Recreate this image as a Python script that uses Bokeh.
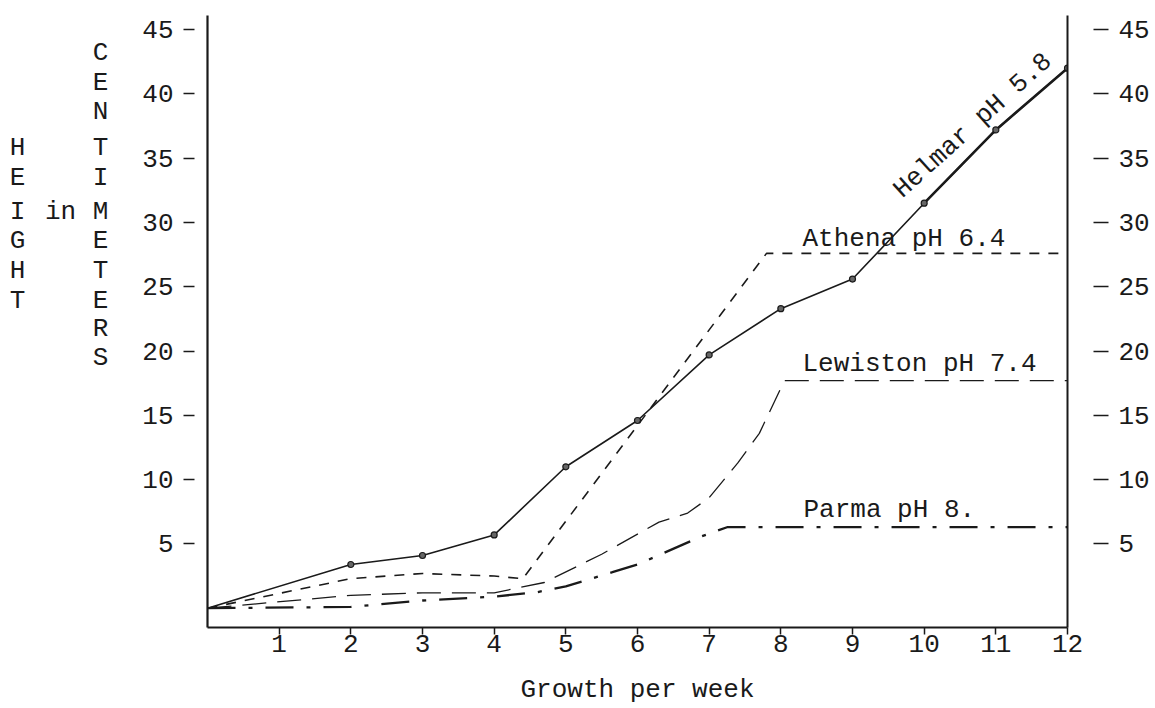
from bokeh.plotting import figure
from bokeh.layouts import row
from bokeh.models import LinearAxis, Label, FixedTicker, Range1d
from bokeh.core.properties import value
from bokeh.embed import file_html
from bokeh.resources import INLINE

# ---- data ----
helmar_weeks = [0, 2, 3, 4, 5, 6, 7, 8, 9, 10, 11, 12]
helmar_height = [0, 3.4, 4.1, 5.7, 11.0, 14.6, 19.7, 23.3, 25.6, 31.5, 37.2, 42.0]

athena_weeks = [0, 2, 3, 4, 4.4, 7.8, 12]
athena_height = [0, 2.3, 2.7, 2.5, 2.3, 27.6, 27.6]

lewiston_weeks = [0, 2, 3, 4, 4.7, 5.5, 6.3, 6.7, 7.0, 7.4, 7.7, 8.05, 12]
lewiston_height = [0, 1.0, 1.2, 1.2, 2.0, 4.2, 6.7, 7.4, 8.6, 11.3, 13.6, 17.7, 17.7]

parma_weeks = [0, 2, 3, 4, 4.6, 5.0, 5.65, 6.0, 6.9, 7.25, 12]
parma_height = [0, 0.1, 0.6, 0.9, 1.25, 1.7, 2.8, 3.4, 5.6, 6.3, 6.3]

x_ticks = [1, 2, 3, 4, 5, 6, 7, 8, 9, 10, 11, 12]
y_ticks = [5, 10, 15, 20, 25, 30, 35, 40, 45]

series_labels = ["Helmar pH 5.8", "Athena pH 6.4", "Lewiston pH 7.4", "Parma pH 8."]
x_title = "Growth per week"
y_title_left = "HEIGHT"
y_title_mid = "in"
y_title_right = "CENTIMETERS"

# ---- styling ----
FONT = "Liberation Mono"
FS = "26px"
INK = "#1a1a1a"

TOTAL_W, H = 1155, 708
LW = 130                      # width of the side panel holding the vertical title
W = TOTAL_W - LW
BL, BR, BT, BB = 207 - LW, 88, 15, 81
X_RANGE = (0, 12)
Y_RANGE = (-1.5, 46.1)

p = figure(width=W, height=H, x_range=Range1d(*X_RANGE), y_range=Range1d(*Y_RANGE),
           output_backend="svg", toolbar_location=None,
           min_border_left=BL, min_border_right=BR, min_border_top=BT, min_border_bottom=BB)
p.outline_line_color = None
p.xgrid.visible = False
p.ygrid.visible = False
p.background_fill_color = "white"
p.border_fill_color = "white"

FW = W - BL - BR
FH = H - BT - BB
def dx(px):
    return X_RANGE[0] + (px - LW - BL) * (X_RANGE[1] - X_RANGE[0]) / FW
def dy(py):
    return Y_RANGE[0] + (BT + FH - py) * (Y_RANGE[1] - Y_RANGE[0]) / FH

# axes
xa = p.xaxis[0]
xa.ticker = FixedTicker(ticks=x_ticks)
xa.major_tick_in = 0
xa.major_tick_out = 7
xa.minor_tick_line_color = None
xa.major_label_standoff = 0
xa.axis_line_width = 2
xa.axis_line_color = INK
xa.major_tick_line_color = INK
xa.major_tick_line_width = 1.5
xa.axis_label = x_title
xa.axis_label_standoff = 20
xa.axis_label_text_font = FONT
xa.axis_label_text_font_size = FS
xa.axis_label_text_font_style = "normal"
xa.axis_label_text_color = INK

ya = p.yaxis[0]
ya.ticker = FixedTicker(ticks=y_ticks)
ya.major_tick_in = -13
ya.major_tick_out = 24
ya.minor_tick_line_color = None
ya.major_label_standoff = 10
ya.axis_line_width = 2.2
ya.axis_line_color = INK
ya.major_tick_line_color = INK
ya.major_tick_line_width = 1.5

ra = LinearAxis(ticker=FixedTicker(ticks=y_ticks))
ra.major_tick_in = -26
ra.major_tick_out = 41
ra.minor_tick_line_color = None
ra.major_label_standoff = 10
ra.axis_line_width = 2
ra.axis_line_color = INK
ra.major_tick_line_color = INK
ra.major_tick_line_width = 1.5
p.add_layout(ra, "right")

for ax in (xa, ya, ra):
    ax.major_label_text_font = FONT
    ax.major_label_text_font_size = FS
    ax.major_label_text_color = INK

# lines
p.line(helmar_weeks, helmar_height, line_color=INK, line_width=1.6)
p.line(helmar_weeks[9:], helmar_height[9:], line_color=INK, line_width=2.6)
p.scatter(helmar_weeks[1:], helmar_height[1:], marker="circle", size=6,
          fill_color="#666666", line_color=INK, line_width=1.2)
p.line(athena_weeks, athena_height, line_color=INK, line_width=1.6, line_dash="10 9")
p.line(lewiston_weeks, lewiston_height, line_color=INK, line_width=1.3, line_dash="24 11")
p.line(parma_weeks, parma_height, line_color=INK, line_width=2.3, line_dash="28 13 4 13")

def add_text(text, x, y, align="left", baseline="alphabetic", angle=0.0):
    p.add_layout(Label(x=x, y=y, text=text, text_font=FONT, text_font_size=FS,
                       text_color=INK, text_align=align, text_baseline=baseline,
                       angle=angle))

# series labels
add_text(series_labels[0], dx(897), dy(193), angle=0.733)
add_text(series_labels[1], dx(802), dy(238))
add_text(series_labels[2], dx(802), dy(363))
add_text(series_labels[3], dx(803), dy(509))

# ---- side panel with the stacked vertical title ----
# (its frame is aligned with the main frame: page y 15 .. 627)
pl = figure(width=LW, height=H, x_range=Range1d(0, LW), y_range=Range1d(BT + FH, BT),
            output_backend="svg", toolbar_location=None,
            x_axis_location=None, y_axis_location=None, min_border=0)
pl.outline_line_color = None
pl.xgrid.visible = False
pl.ygrid.visible = False

rows = [52, 82, 111, 147, 177, 211, 240, 270, 300, 328, 357]
tx, ty, tt = [], [], []
for i, ch in enumerate(y_title_right):
    tx.append(100); ty.append(rows[i]); tt.append(ch)
for i, ch in enumerate(y_title_left):
    tx.append(17); ty.append(rows[3 + i]); tt.append(ch)
tx.append(60); ty.append(rows[5]); tt.append(y_title_mid)
pl.text(x=tx, y=ty, text=tt, text_font=value(FONT), text_font_size=value(FS),
        text_color=INK, text_align="center", text_baseline="middle")

layout = row(pl, p, spacing=0)
open("out.html", "w").write(file_html(layout, INLINE))
